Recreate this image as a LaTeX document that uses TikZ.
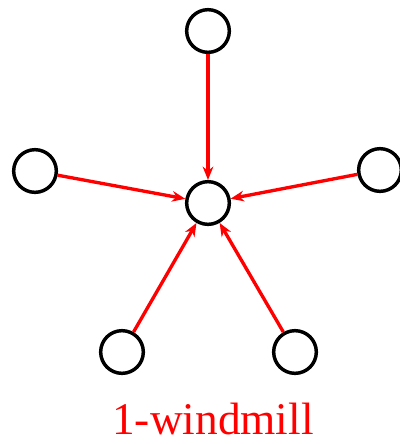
\documentclass[tikz,border=0pt]{standalone}
\usepackage{fontspec}
\setmainfont{Liberation Serif}
\usetikzlibrary{arrows.meta}

\tikzset{
  vtx/.style={circle, draw=black, line width=2.6pt, minimum size=32pt, inner sep=0pt, fill=white},
  edg/.style={red, line width=2.5pt, -{Stealth[length=10pt, width=8pt]}}
}

\begin{document}
\begin{tikzpicture}[x=0.75pt, y=-0.75pt]
    \useasboundingbox (0,0) rectangle (400,444);

    % hub
    \node[vtx] (hub) at (208,203) {};

    % outer vertices
    \node[vtx] (top) at (208,31) {};
    \node[vtx] (left) at (35,171) {};
    \node[vtx] (right) at (380,170) {};
    \node[vtx] (botl) at (122,352) {};
    \node[vtx] (botr) at (295,352) {};

    % edges into the hub
    \foreach \v in {top, left, right, botl, botr}
        \draw[edg] (\v) -- (hub);

    \node[red, inner sep=0pt, font=\fontsize{34}{36}\selectfont, anchor=base] (name) at (213,434) {1-windmill};
\end{tikzpicture}
\end{document}
